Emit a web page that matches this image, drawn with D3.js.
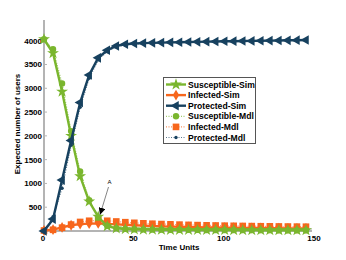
<!DOCTYPE html>
<html><head><meta charset="utf-8">
<script src="https://cdn.jsdelivr.net/npm/d3@7"></script>
<style>body{margin:0;background:#fff}svg{display:block;font-family:"Liberation Sans",Arial,sans-serif;font-weight:bold}</style>
</head><body><svg id="c" width="346" height="260"></svg>
<script>
const time = [0,5,10,15,20,25,30,35,40,45,50,55,60,65,70,75,80,85,90,95,100,105,110,115,120,125,130,135,140,145];
const susSim = [4030,3740,2930,2000,1150,620,300,100,55,40,35,30,28,26,25,24,23,22,21,20,20,19,18,18,17,17,16,16,15,15];
const susMdl = [4030,3820,3100,2100,1250,650,280,110,60,45,38,33,30,28,26,25,24,23,22,21,20,20,19,19,18,18,17,17,16,16];
const infSim = [10,30,75,120,145,155,160,150,140,130,120,112,105,98,92,88,84,80,77,74,71,68,66,64,62,60,58,56,55,54];
const infMdl = [10,25,70,135,190,215,225,215,200,185,172,162,153,146,140,134,129,124,120,116,112,109,106,103,100,98,96,94,92,90];
const proSim = [0,250,1070,1900,2700,3280,3640,3800,3890,3925,3940,3950,3955,3960,3965,3968,3972,3976,3980,3984,3987,3990,3993,3996,3999,4002,4005,4008,4011,4014];
const proMdl = [0,300,900,1800,2600,3210,3600,3770,3870,3910,3930,3942,3950,3956,3962,3966,3970,3974,3978,3982,3985,3988,3991,3994,3997,4000,4003,4006,4009,4012];
const xTicks = [0,50,100,150];
const yTicks = [500,1000,1500,2000,2500,3000,3500,4000];
const seriesNames = ["Susceptible-Sim","Infected-Sim","Protected-Sim","Susceptible-Mdl","Infected-Mdl","Protected-Mdl"];

const GREEN="#7ab62e", ORANGE="#f7661c", NAVY="#17415f";
const svg = d3.select("#c");
const x = d3.scaleLinear([0,150],[44,315]);
const y = d3.scaleLinear([0,4000],[231,40.7]);

// axes
const axisCol="#b4b4b4";
svg.append("line").attr("x1",x(0)).attr("x2",x(0)).attr("y1",y(0)).attr("y2",20).attr("stroke",axisCol).attr("stroke-width",2);
svg.append("line").attr("x1",x(0)).attr("x2",x(150)-3).attr("y1",y(0)).attr("y2",y(0)).attr("stroke",axisCol).attr("stroke-width",2);
yTicks.forEach(v=>{
  svg.append("line").attr("x1",x(0)).attr("x2",x(0)+3).attr("y1",y(v)).attr("y2",y(v)).attr("stroke",axisCol).attr("stroke-width",1);
  svg.append("text").attr("x",42).attr("y",y(v)+3).attr("text-anchor","end").attr("font-size",8).text(v);
});
xTicks.forEach(v=>{
  if(v>0) svg.append("line").attr("x1",x(v)-4).attr("x2",x(v)-4).attr("y1",y(0)).attr("y2",y(0)-3).attr("stroke",axisCol).attr("stroke-width",1);
  svg.append("text").attr("x",x(v)-1).attr("y",241).attr("text-anchor","middle").attr("font-size",8).text(v);
});
svg.append("text").attr("x",179).attr("y",250).attr("text-anchor","middle").attr("font-size",8).text("Time Units");
svg.append("text").attr("transform","translate(20,124) rotate(-90)").attr("text-anchor","middle").attr("font-size",8).text("Expected number of users");

const line = d3.line().x((d,i)=>x(time[i])).y(d=>y(d));
function drawMdl(vals,col,sym,size){
  svg.append("path").attr("d",line(vals)).attr("fill","none").attr("stroke",col).attr("stroke-width",1.2).attr("stroke-dasharray","1,1.5").attr("opacity",0.7);
  svg.selectAll(null).data(vals).enter().append("path")
    .attr("transform",(d,i)=>`translate(${x(time[i])},${y(d)})`)
    .attr("d",d3.symbol(sym,size)).attr("fill",col);
}
function drawSim(vals,col,sym,size,rot){
  svg.append("path").attr("d",line(vals)).attr("fill","none").attr("stroke",col).attr("stroke-width",2.4);
  svg.selectAll(null).data(vals).enter().append("path")
    .attr("transform",(d,i)=>`translate(${x(time[i])},${y(d)}) rotate(${rot})`)
    .attr("d",d3.symbol(sym,size)).attr("fill",col);
}
drawMdl(infMdl,ORANGE,d3.symbolSquare,44);
drawSim(infSim,ORANGE,d3.symbolDiamond,34,0);
drawMdl(susMdl,GREEN,d3.symbolCircle,32);
drawSim(susSim,GREEN,d3.symbolStar,44,0);
drawMdl(proMdl,NAVY,d3.symbolCircle,9);
drawSim(proSim,NAVY,d3.symbolTriangle,40,-90);

// annotation
svg.append("defs").append("marker").attr("id","ah").attr("viewBox","0 0 10 10").attr("refX",10).attr("refY",5)
  .attr("markerWidth",7).attr("markerHeight",7).attr("orient","auto").attr("markerUnits","userSpaceOnUse")
  .append("path").attr("d","M0,0L10,5L0,10Z").attr("fill","#000");
svg.append("text").attr("x",109.5).attr("y",184).attr("text-anchor","middle").attr("font-size",6).attr("font-weight","normal").text("A");
svg.append("line").attr("x1",108.5).attr("y1",187).attr("x2",x(31)).attr("y2",y(300)-2).attr("stroke","#333").attr("stroke-width",0.6).attr("marker-end","url(#ah)");

// legend
const lg = svg.append("g");
lg.append("rect").attr("x",163.5).attr("y",77.5).attr("width",92).attr("height",66).attr("fill","#fff").attr("stroke","#555").attr("stroke-width",1);
const legSpec = [
 {c:GREEN,sim:true,sym:d3.symbolStar,s:44,r:0},
 {c:ORANGE,sim:true,sym:d3.symbolDiamond,s:34,r:0},
 {c:NAVY,sim:true,sym:d3.symbolTriangle,s:40,r:-90},
 {c:GREEN,sim:false,sym:d3.symbolCircle,s:32,r:0},
 {c:ORANGE,sim:false,sym:d3.symbolSquare,s:44,r:0},
 {c:NAVY,sim:false,sym:d3.symbolCircle,s:9,r:0}];
seriesNames.forEach((n,i)=>{
  const yy = 84.5 + i*10.6;
  const sp = legSpec[i];
  lg.append("line").attr("x1",166).attr("x2",186).attr("y1",yy).attr("y2",yy).attr("stroke",sp.c)
    .attr("stroke-width",sp.sim?2.4:1.2).attr("stroke-dasharray",sp.sim?null:"1,1.5").attr("opacity",sp.sim?1:0.7);
  lg.append("path").attr("transform",`translate(176,${yy}) rotate(${sp.r})`).attr("d",d3.symbol(sp.sym,sp.s)).attr("fill",sp.c);
  lg.append("text").attr("x",188).attr("y",yy+3).attr("font-size",8.6).text(n);
});
</script></body></html>
